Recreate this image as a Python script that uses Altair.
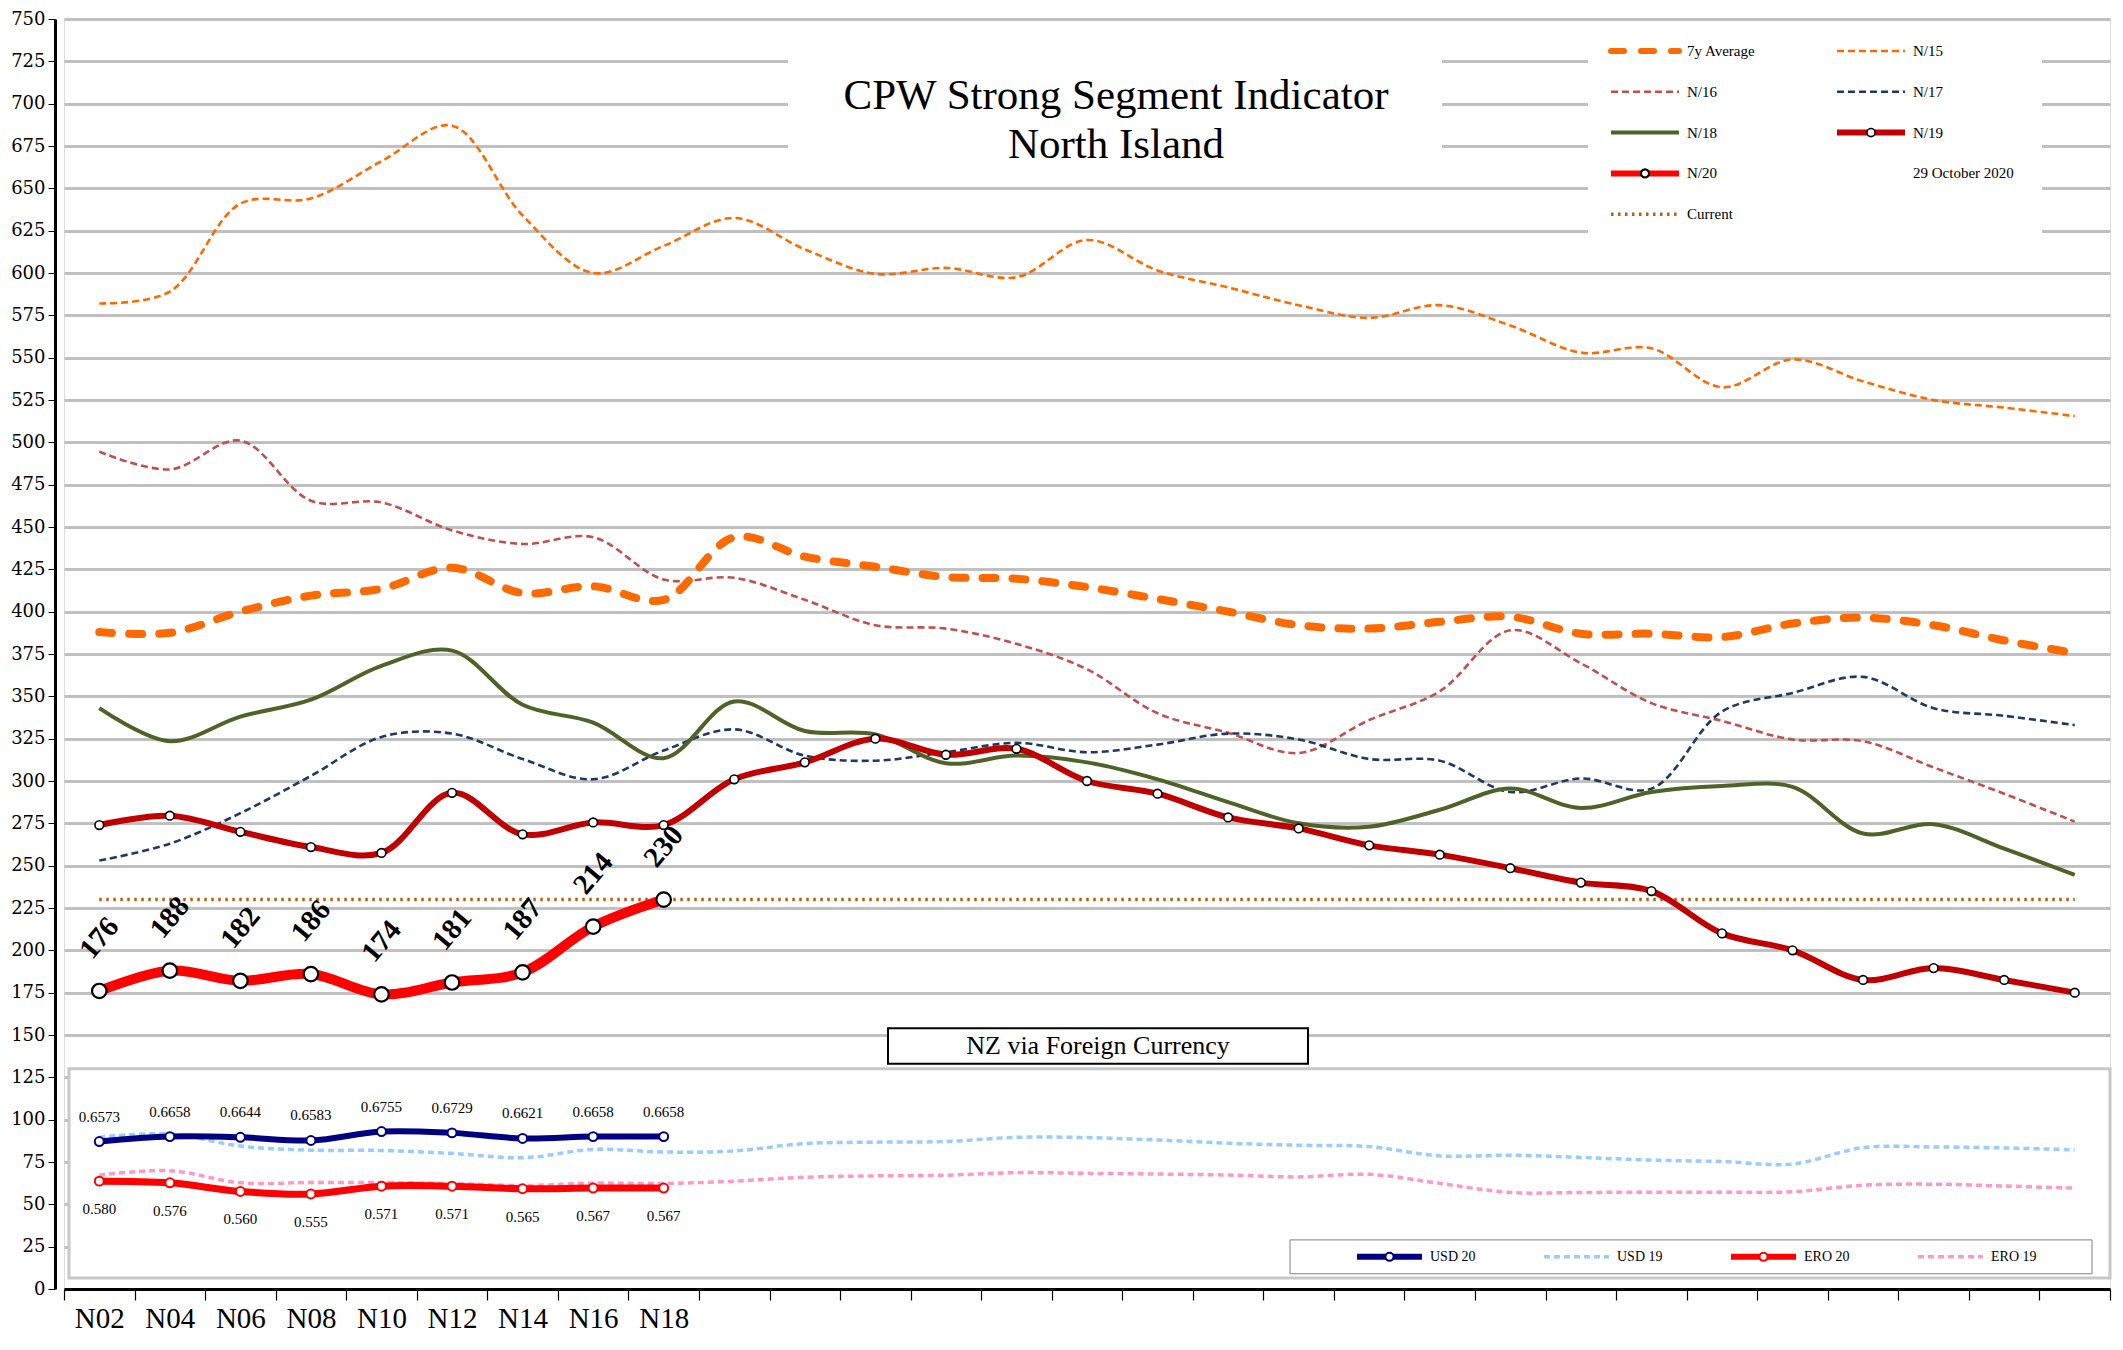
import json
import altair as alt
import pandas as pd

# ---------------- data ----------------
WEEKS = ["N02", "N04", "N06", "N08", "N10", "N12", "N14", "N16", "N18", "N20",
         "N22", "N24", "N26", "N28", "N30", "N32", "N34", "N36", "N38", "N40",
         "N42", "N44", "N46", "N48", "N50", "N52", "N54", "N56", "N58"]
X_LABELS = ["N02", "N04", "N06", "N08", "N10", "N12", "N14", "N16", "N18"]
Y_TICKS = [0, 25, 50, 75, 100, 125, 150, 175, 200, 225, 250, 275, 300, 325, 350,
           375, 400, 425, 450, 475, 500, 525, 550, 575, 600, 625, 650, 675, 700, 725, 750]

AVG7 = [388, 387.5, 400, 409.5, 413.5, 426, 411, 415, 407, 444, 432.5, 426.5, 420.5, 419.5,
        414.5, 407.5, 400, 392, 390, 394, 397, 387, 387, 385, 393, 396.5, 392, 383, 375.5]
N15 = [582, 589, 641, 644, 666, 687, 634, 600, 616, 632.5, 614, 599.5, 603, 597.5, 619.5,
       601.5, 591.5, 581, 573.5, 581, 569, 553, 555.5, 532.5, 549, 536, 525, 520.5, 515.5]
N16 = [494.5, 484, 501, 465.5, 464.5, 448, 440, 444, 419, 420, 407, 392, 390, 381, 366,
       340, 328.5, 316.5, 336, 353, 389, 369.5, 346, 335.5, 324.5, 323.5, 308, 292.5, 276]
N17 = [253, 263, 281, 303, 326, 328, 313, 301, 318, 330.5, 315, 312, 317, 322.5, 317,
       321.5, 328, 324.5, 313, 312, 293.5, 301.5, 295.5, 341, 352, 361.5, 343, 338.5, 333]
N18 = [343, 323.5, 338, 348, 368, 377, 345, 334.5, 313.5, 347, 329.5, 327.5, 310.5, 315, 311,
       301, 287.5, 275, 273, 283, 295.5, 284, 293.5, 297, 296.5, 269, 274.5, 260, 244.5]
N19 = [274, 279.5, 270, 261, 257.5, 293, 268.5, 275.5, 274, 301, 311, 325, 315.5, 319, 300,
       292.5, 278.5, 272, 262, 256.5, 248.5, 240, 235, 210, 200, 182.5, 189.5, 182.5, 175]
N20 = [176, 188, 182, 186, 174, 181, 187, 214, 230]
CURRENT = 230

USD20 = [87.1, 90.0, 89.6, 87.7, 93.0, 92.2, 88.9, 90.0, 90.0]
USD20_LABELS = ["0.6573", "0.6658", "0.6644", "0.6583", "0.6755", "0.6729", "0.6621", "0.6658", "0.6658"]
ERO20 = [63.7, 62.7, 57.6, 56.1, 60.7, 60.7, 59.2, 59.6, 59.6]
ERO20_LABELS = ["0.580", "0.576", "0.560", "0.555", "0.571", "0.571", "0.565", "0.567", "0.567"]
USD19 = [89.6, 91.6, 84.4, 82.0, 81.8, 80.1, 77.5, 82.4, 80.9, 81.5, 85.9, 86.7, 87.1, 89.6, 89.4,
         88.0, 86.1, 84.9, 84.1, 78.6, 79.0, 77.7, 76.1, 75.3, 73.8, 83.5, 83.9, 83.3, 82.2]
ERO19 = [67.2, 69.9, 62.7, 62.9, 62.9, 62.3, 61.1, 62.5, 62.3, 63.7, 66.0, 66.8, 67.2, 68.7, 68.3,
         67.9, 67.3, 66.2, 67.7, 62.4, 57.0, 57.0, 57.2, 57.2, 57.4, 61.3, 61.9, 60.8, 59.6]

TITLE = ["CPW Strong Segment Indicator", "North Island"]
DATE_TEXT = "29 October 2020"
INSET_TITLE = "NZ via Foreign Currency"

# ---------------- styles / layout ----------------
W, H = 2046, 1270
YMAX = 750
BAND = W / len(WEEKS)
SERIF = "Liberation Serif"


def ypx(v):
    """pixel row of a y-value inside the plot (for decoration boxes)"""
    return H * (1 - v / YMAX)


STY = {
    "7y Average": dict(color="#ff6a00", strokeWidth=8, strokeDash=[13, 17], strokeCap="round"),
    "N/15": dict(color="#ff6a00", strokeWidth=2.6, strokeDash=[7, 4]),
    "N/16": dict(color="#c0504d", strokeWidth=2.6, strokeDash=[7, 4]),
    "N/17": dict(color="#1f3864", strokeWidth=2.6, strokeDash=[7, 4]),
    "N/18": dict(color="#4f6228", strokeWidth=4),
    "N/19": dict(color="#c00000", strokeWidth=6),
    "N/20": dict(color="#ff0000", strokeWidth=10),
    "Current": dict(color="#b5600f", strokeWidth=3.5, strokeDash=[2.5, 4.5]),
    "USD 20": dict(color="#000080", strokeWidth=6),
    "USD 19": dict(color="#99ccff", strokeWidth=3.5, strokeDash=[6, 4]),
    "ERO 20": dict(color="#ff0000", strokeWidth=7),
    "ERO 19": dict(color="#ff99cc", strokeWidth=3.5, strokeDash=[6, 4]),
}
MARK = {
    "N/19": dict(stroke="black", strokeWidth=1.6, size=75),
    "N/20": dict(stroke="black", strokeWidth=2.2, size=210),
    "USD 20": dict(stroke="#000080", strokeWidth=2, size=80),
    "ERO 20": dict(stroke="#ff0000", strokeWidth=2, size=80),
}

label_expr = (f"datum.value < {len(X_LABELS) - 0.5} ? "
              f"{json.dumps(X_LABELS)}[round(datum.value + 0.5)] : ''")

X = alt.X("i:Q", title=None,
          scale=alt.Scale(domain=[-0.5, len(WEEKS) - 0.5], nice=False, zero=False),
          axis=alt.Axis(values=[k - 0.5 for k in range(len(WEEKS) + 1)], labelExpr=label_expr,
                        labelOffset=BAND / 2, labelFlush=False, labelOverlap=False,
                        grid=False, tickSize=11, tickColor="black", tickWidth=1.2,
                        domainColor="black", domainWidth=3, labelFont=SERIF,
                        labelFontSize=29, labelPadding=4, labelColor="black"))
Y = alt.Y("v:Q", title=None,
          scale=alt.Scale(domain=[0, YMAX], nice=False, zero=True),
          axis=alt.Axis(values=Y_TICKS, grid=True, gridColor="#c0c0c0", gridWidth=3,
                        tickSize=7, tickColor="black", domainColor="black", domainWidth=3,
                        offset=9, labelFont="DejaVu Serif", labelFontSize=18,
                        labelPadding=3, labelColor="black"))


def sdf(values, labels=None):
    d = pd.DataFrame({"i": list(range(len(values))), "v": values,
                      "week": WEEKS[:len(values)]})
    if labels is not None:
        d["lab"] = labels
    return d


def line(name, values):
    return alt.Chart(sdf(values)).mark_line(interpolate="catmull-rom", **STY[name]).encode(x=X, y=Y)


def dots(name, values):
    return alt.Chart(sdf(values)).mark_point(shape="circle", fill="white", fillOpacity=1,
                                             opacity=1, **MARK[name]).encode(x=X, y=Y)


one = pd.DataFrame({"a": [0]})


def box(x0, x1, y0, y1, stroke=None, sw=0):
    kw = dict(fill="white")
    if stroke:
        kw.update(stroke=stroke, strokeWidth=sw)
    return alt.Chart(one).mark_rect(**kw).encode(
        x=alt.value(x0), x2=alt.value(x1), y=alt.value(y0), y2=alt.value(y1))


def txt(s, x, y, size, align="left", weight="normal", baseline="middle"):
    return alt.Chart(one).mark_text(font=SERIF, fontSize=size, align=align, baseline=baseline,
                                    fontWeight=weight, color="black").encode(
        x=alt.value(x), y=alt.value(y), text=alt.value(s))


def legend_item(name, x0, y, length, size=15, label=None):
    st = dict(STY[name])
    st["strokeWidth"] = min(st["strokeWidth"], 6)
    layers = [alt.Chart(one).mark_rule(**st).encode(
        x=alt.value(x0), x2=alt.value(x0 + length), y=alt.value(y))]
    if name in MARK:
        m = dict(MARK[name])
        m["size"] = min(m["size"], 65)
        layers.append(alt.Chart(one).mark_point(shape="circle", fill="white", fillOpacity=1,
                                                opacity=1, **m).encode(
            x=alt.value(x0 + length / 2), y=alt.value(y)))
    layers.append(txt(label or name, x0 + length + 8, y, size))
    return layers


layers = []
# white panels that hide the gridlines
layers.append(box(724, 1378, 16, 154))                                 # title area
layers.append(box(1524, 1978, 2, 224))                                 # main legend area
layers.append(box(5, W, ypx(130), ypx(6.5), stroke="#c8c8c8", sw=3))   # currency inset
layers.append(box(824, 1244, ypx(154), ypx(133), stroke="black", sw=2))
layers.append(box(1226, 2028, ypx(29), ypx(9), stroke="#808080", sw=1))

# currency inset series
layers += [line("USD 19", USD19), line("ERO 19", ERO19),
           line("USD 20", USD20), line("ERO 20", ERO20),
           dots("USD 20", USD20), dots("ERO 20", ERO20)]
layers.append(alt.Chart(sdf(USD20, USD20_LABELS)).mark_text(
    font=SERIF, fontSize=15, dy=-25, color="black").encode(x=X, y=Y, text="lab:N"))
layers.append(alt.Chart(sdf(ERO20, ERO20_LABELS)).mark_text(
    font=SERIF, fontSize=15, dy=28, color="black").encode(x=X, y=Y, text="lab:N"))

# main series
cur = pd.DataFrame({"i": [0, len(WEEKS) - 1], "v": [CURRENT, CURRENT]})
layers.append(alt.Chart(cur).mark_line(**STY["Current"]).encode(x=X, y=Y))
layers += [line("N/15", N15), line("N/16", N16), line("N/17", N17), line("7y Average", AVG7),
           line("N/18", N18), line("N/19", N19), dots("N/19", N19),
           line("N/20", N20), dots("N/20", N20)]
layers.append(alt.Chart(sdf(N20, [str(v) for v in N20])).mark_text(
    font=SERIF, fontSize=29, fontWeight="bold", angle=310, dx=40.6, dy=-34.1,
    align="center", baseline="middle", color="black").encode(x=X, y=Y, text="lab:N"))

# titles
layers.append(txt(TITLE[0], 1052, 90, 43, align="center", baseline="alphabetic"))
layers.append(txt(TITLE[1], 1052, 139, 43, align="center", baseline="alphabetic"))
layers.append(txt(INSET_TITLE, 1034, ypx(143.5), 26, align="center"))

# main legend (two columns, row-major)
order = ["7y Average", "N/15", "N/16", "N/17", "N/18", "N/19", "N/20", None, "Current"]
for k, name in enumerate(order):
    col, row = k % 2, k // 2
    x0 = 1547 + col * 226
    y = 32 + row * 40.8
    if name is None:
        layers.append(txt(DATE_TEXT, x0 + 76, y, 15))
    else:
        layers += legend_item(name, x0, y, 68)

# inset legend (one row)
for k, name in enumerate(["USD 20", "USD 19", "ERO 20", "ERO 19"]):
    layers += legend_item(name, 1293 + k * 187, ypx(19), 65, size=14)

chart = alt.layer(*layers).properties(
    width=W, height=H,
    autosize=alt.AutoSizeParams(type="none"),
    padding={"left": 56, "top": 11, "right": 2, "bottom": 44},
).configure_view(stroke="black", strokeWidth=2).configure(background="white")

chart.save("out.html", embed_options={"renderer": "svg", "actions": False})
